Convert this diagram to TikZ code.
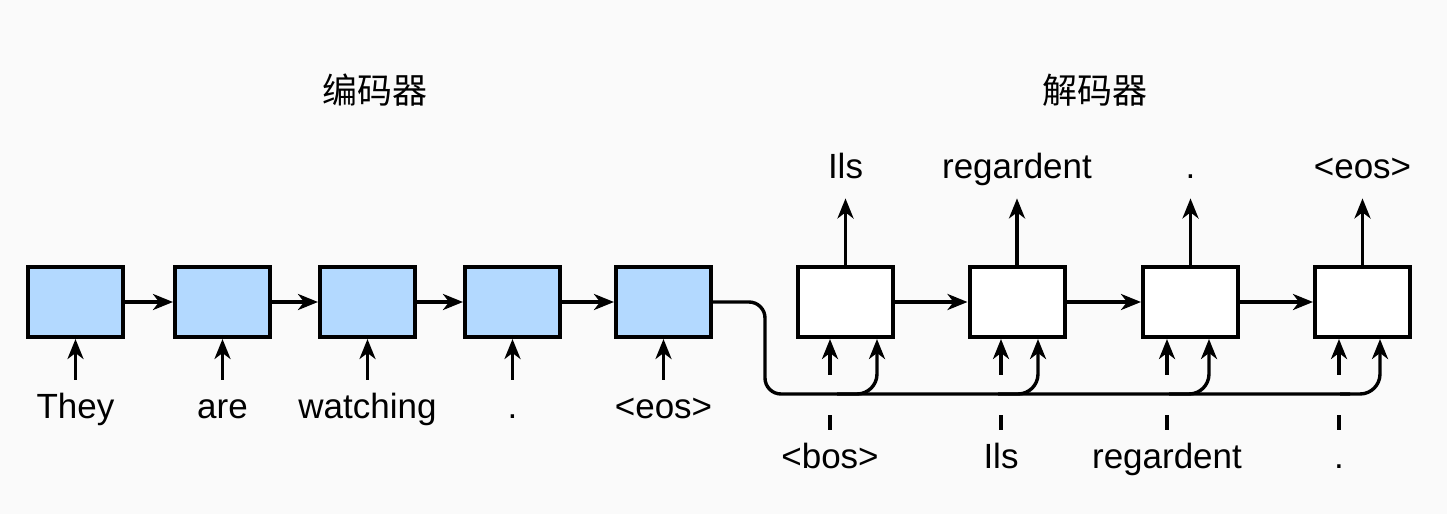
\documentclass[tikz,border=0pt]{standalone}
\usepackage{fontspec}
\setmainfont{Liberation Sans}
\newfontfamily\cjk{Noto Sans CJK SC}
\usetikzlibrary{arrows.meta}

\definecolor{paper}{HTML}{FAFAFA}
\definecolor{cellblue}{HTML}{B3D9FF}

\tikzstyle{encunit} = [draw=black, fill=cellblue, line width=2pt,
  rectangle, minimum width=47.5pt, minimum height=35pt, inner sep=0pt]
\tikzstyle{decunit} = [draw=black, fill=white, line width=2pt,
  rectangle, minimum width=47.5pt, minimum height=35pt, inner sep=0pt]
\tikzstyle{token} = [font=\fontsize{17.5}{21}\selectfont, inner sep=0pt,
  text height=12pt, text depth=3.5pt, anchor=base]
\tikzstyle{title} = [font=\cjk\fontsize{17.5}{21}\selectfont, inner sep=0pt]
\tikzstyle{wire} = [draw=black, line width=1.7pt]
\tikzstyle{link} = [wire, -{Stealth[length=10pt,width=8pt,inset=3pt]}]

\begin{document}
\begin{tikzpicture}[x=0.5pt, y=-0.5pt]
        \fill [paper] (0,0) rectangle (1447,514);
        \useasboundingbox (0,0) rectangle (1447,514);

        \node [title] (enctitle) at ( 375,90) {编码器};
        \node [title] (dectitle) at (1095,90) {解码器};

        \foreach \i/\x/\t in {1/75.5/They, 2/222.5/are, 3/367.5/watching,
                              4/512.5/., 5/663.5/{<eos>}} {
          \node [encunit] (enc\i) at (\x,302) {};
          \node [token]   (src\i) at (\x,418) {\t};
          \draw [link] ([yshift=7pt]src\i.north) -- (src\i.north |- enc\i.south);
        }
        \foreach \i/\j in {1/2, 2/3, 3/4, 4/5}
          \draw [link] (enc\i.east) -- (enc\j.west);

        \coordinate (ctx) at (765,394);
        \draw [wire, rounded corners=8pt] (enc5.east) -| (ctx) -- (1350,394);

        \foreach \i/\x/\l/\r/\o/\t in {1/845.5/830/877/Ils/{<bos>},
                                       2/1017/1001/1038/regardent/Ils,
                                       3/1190.5/1167/1209/./regardent,
                                       4/1362.5/1339/1380/{<eos>}/.} {
          \node [decunit] (dec\i) at (\x,302) {};
          \node [token]   (out\i) at (\x,178) {\o};
          \node [token]   (in\i)  at (\l,468) {\t};
          \coordinate (branch\i) at (\r,394);
          \draw [link] (dec\i.north) -- ([yshift=-6.5pt]out\i.south);
          \draw [wire] ([yshift=7pt]in\i.north) -- ([yshift=14.5pt]in\i.north);
          \draw [link] ([yshift=34.5pt]in\i.north) -- (in\i.north |- dec\i.south);
          \draw [link, rounded corners=10pt] ([xshift=-20pt]branch\i)
            -| (branch\i |- dec\i.south);
        }
        \foreach \i/\j in {1/2, 2/3, 3/4}
          \draw [link] (dec\i.east) -- (dec\j.west);
      \end{tikzpicture}
\end{document}
